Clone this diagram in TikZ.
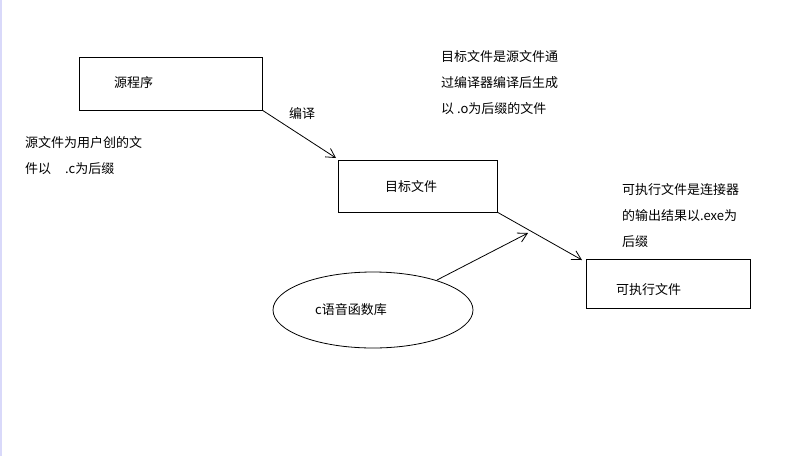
\documentclass[tikz,border=0pt]{standalone}
\usepackage{fontspec}
\setmainfont{Noto Sans CJK SC}
\usetikzlibrary{arrows.meta}
\begin{document}
\begin{tikzpicture}[x=1pt,y=-1pt,
  box/.style={draw,line width=0.8pt,inner sep=0pt},
  lbl/.style={anchor=west,inner sep=0pt,font=\fontsize{13}{15}\selectfont},
  arr/.style={line width=0.8pt,-{Straight Barb[length=9pt,width=10pt]}}]
\useasboundingbox[fill=white] (0,0) rectangle (806,456);
\draw[color=black!12!blue!15,line width=2pt] (1,0) -- (1,456);
\node[box,minimum width=183pt,minimum height=53pt] (src) at (170.5,83.5) {};
\node[lbl] at (114,83) {源程序};
\node[box,minimum width=159pt,minimum height=52pt] (obj) at (417.5,186) {};
\node[lbl] at (385,187) {目标文件};
\node[box,minimum width=164pt,minimum height=49pt] (exe) at (668,283.5) {};
\node[lbl] at (616,290) {可执行文件};
\draw[line width=0.8pt] (373,310) ellipse [x radius=100, y radius=38];
\node[inner sep=0pt,minimum width=200pt,minimum height=76pt] (lib) at (373,310) {};
\node[lbl] at (315,310) {c语音函数库};
\coordinate (a1) at (262,110); \coordinate (b1) at (336,158);
\draw[arr] (a1) -- (b1);
\node[lbl] at (289,114) {编译};
\coordinate (a2) at (497,212); \coordinate (b2) at (582,260);
\draw[arr] (a2) -- (b2);
\coordinate (a3) at (437,280); \coordinate (b3) at (528,233);
\draw[arr] (a3) -- (b3);
\node[lbl] at (25,143) {源文件为用户创的文};
\node[lbl] at (25,169) {件以\hspace{14pt}.c为后缀};
\node[lbl] at (441,57) {目标文件是源文件通};
\node[lbl] at (441,83) {过编译器编译后生成};
\node[lbl] at (441,109) {以 .o为后缀的文件};
\node[lbl] at (622,190) {可执行文件是连接器};
\node[lbl] at (622,216) {的输出结果以.exe为};
\node[lbl] at (622,242) {后缀};
\end{tikzpicture}
\end{document}
